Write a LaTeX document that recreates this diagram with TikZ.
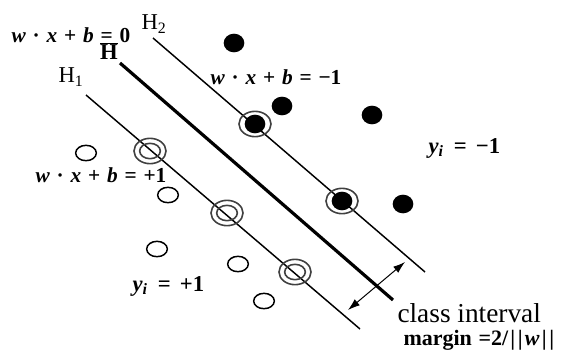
\documentclass[tikz,border=0pt]{standalone}
\usepackage{fontspec}
\setmainfont{Liberation Serif}
\usetikzlibrary{shapes.geometric,arrows.meta}

\newcommand{\gp}{\hspace{0.32em}}
\newcommand{\vw}{\textit{w}}

\tikzset{every picture/.style={line width=0.75pt}}
\tikzset{
  opendot/.style={draw,ellipse,line width=1.1pt,inner sep=0pt,minimum width=15.5pt,minimum height=11.5pt},
  fulldot/.style={fill,ellipse,inner sep=0pt,minimum width=15.5pt,minimum height=14pt},
  svring/.style={draw=black!75,ellipse,line width=1.2pt,inner sep=0pt,minimum width=24pt,minimum height=19pt},
  hplane/.style={line width=1.1pt},
  eqlabel/.style={inner sep=0.75pt,anchor=west,font=\fontsize{16}{18}\selectfont\bfseries},
  hlabel/.style={inner sep=0.75pt,font=\fontsize{17}{19}\selectfont}
}

\begin{document}
\begin{tikzpicture}[x=0.75pt,y=0.75pt,yscale=-1,xscale=1]
\useasboundingbox (0,0) rectangle (563,354);

%Straight Lines: H2, H, H1
\coordinate (h2top) at (153,38);
\coordinate (h2end) at (425,272);
\coordinate (htop) at (120,63);
\coordinate (hend) at (393,300);
\coordinate (h1top) at (86,95);
\coordinate (h1end) at (360,329);
\draw [hplane] (h2top) -- (h2end) ;
\draw [line width=2.4pt] (htop) -- (hend) ;
\draw [hplane] (h1top) -- (h1end) ;

%Shape: filled points
\node [fulldot] (f1) at (234,43) {};
\node [fulldot] (f2) at (282,106) {};
\node [fulldot] (f3) at (372,115) {};
\node [fulldot] (f4) at (403,204) {};
%Shape: filled support vectors
\node [fulldot] (fs1) at (255,124) {};
\node [svring] (rs1) at (255,124) {};
\node [fulldot] (fs2) at (342,201) {};
\node [svring] (rs2) at (342,201) {};

%Shape: open points
\node [opendot] (o1) at (86,153) {};
\node [opendot] (o2) at (168,195) {};
\node [opendot] (o3) at (157,249) {};
\node [opendot] (o4) at (238,264) {};
\node [opendot] (o5) at (264,301) {};
%Shape: open support vectors
\node [opendot,draw=black!75,line width=1.2pt] (os1) at (150,151) {};
\node [svring] (ro1) at (150,151) {};
\node [opendot,draw=black!75,line width=1.2pt] (os2) at (227,213) {};
\node [svring] (ro2) at (227,213) {};
\node [opendot,draw=black!75,line width=1.2pt] (os3) at (295,272) {};
\node [svring] (ro3) at (295,272) {};

%Straight Lines: margin arrow
\coordinate (mlow) at (348,310);
\coordinate (mup) at (405,262);
\draw [{Latex[length=9pt,width=6pt]}-{Latex[length=9pt,width=6pt]}] (mlow) -- (mup) ;

% Text Node
\node [eqlabel] (eqzero) at (10,35) {\vw\gp·\gp\textit{x}\gp+\gp\textit{b}\gp=\gp0};
% Text Node
\node [hlabel,font=\fontsize{17}{19}\selectfont\bfseries] (hbar) at (109,51) {$\overline{\mbox{H}}$};
% Text Node
\node [hlabel] (htwo) at (154,24) {H\textsubscript{2}};
% Text Node
\node [hlabel] (hone) at (71,77) {H\textsubscript{1}};
% Text Node
\node [eqlabel] (eqminus) at (209,77) {\vw\gp·\gp\textit{x}\gp+\gp\textit{b}\gp=\gp−1};
% Text Node
\node [eqlabel] (eqplus) at (34,175) {\vw\gp·\gp\textit{x}\gp+\gp\textit{b}\gp=\gp+1};
% Text Node
\node [eqlabel,font=\fontsize{17}{19}\selectfont\bfseries] (yminus) at (427,148) {\textit{y}\textsubscript{\textit{i}}\hspace{0.45em}=\hspace{0.4em}−1};
% Text Node
\node [eqlabel,font=\fontsize{17}{19}\selectfont\bfseries] (yplus) at (131,286) {\textit{y}\textsubscript{\textit{i}}\hspace{0.45em}=\hspace{0.4em}+1};
% Text Node
\node [inner sep=0.75pt,anchor=west,font=\fontsize{20.5}{22}\selectfont] (clsint) at (396,313) {class interval};
% Text Node
\node [inner sep=0.75pt,anchor=west,font=\fontsize{16.5}{18}\selectfont\bfseries] (margin) at (402,340) {margin\hspace{0.3em}=2/\hspace{0.1em}|\hspace{0.12em}|\hspace{0.1em}\vw\hspace{0.1em}|\hspace{0.12em}|};

\end{tikzpicture}
\end{document}
